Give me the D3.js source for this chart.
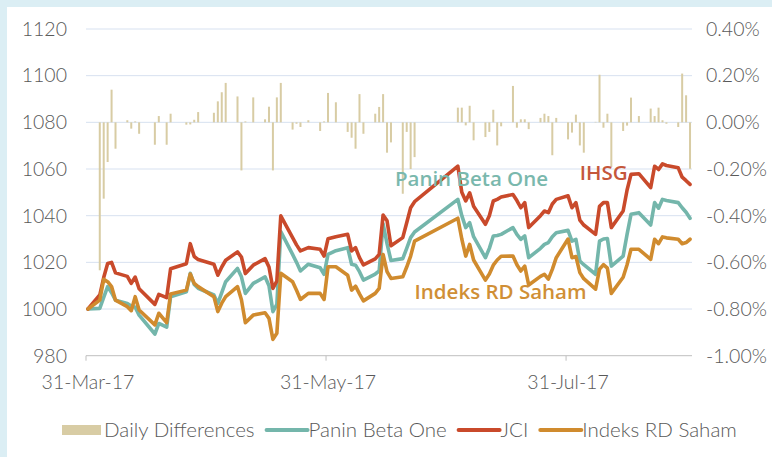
<!DOCTYPE html>
<html>
<head>
<meta charset="utf-8">
<script src="https://cdn.jsdelivr.net/npm/d3@7"></script>
<style>
	body { margin: 0; background: #dbeef4; }
	svg { display: block; }
	text { font-family: Lato, "Open Sans", sans-serif; }
</style>
</head>
<body>
<svg id="chart" width="772" height="457"></svg>
<script>
// trading days, Mar-Aug 2017
var dates = ["2017-03-31",
	"2017-04-03","2017-04-04","2017-04-05","2017-04-06","2017-04-07","2017-04-10","2017-04-11","2017-04-12","2017-04-13","2017-04-17","2017-04-18","2017-04-20","2017-04-21","2017-04-25","2017-04-26","2017-04-27","2017-04-28",
	"2017-05-02","2017-05-03","2017-05-04","2017-05-05","2017-05-08","2017-05-09","2017-05-10","2017-05-12","2017-05-15","2017-05-16","2017-05-17","2017-05-18","2017-05-19","2017-05-22","2017-05-23","2017-05-24","2017-05-26","2017-05-29","2017-05-30","2017-05-31",
	"2017-06-02","2017-06-05","2017-06-06","2017-06-07","2017-06-08","2017-06-09","2017-06-12","2017-06-13","2017-06-14","2017-06-15","2017-06-16","2017-06-19","2017-06-20","2017-06-21","2017-06-22",
	"2017-07-03","2017-07-04","2017-07-05","2017-07-06","2017-07-07","2017-07-10","2017-07-11","2017-07-12","2017-07-13","2017-07-14","2017-07-17","2017-07-18","2017-07-19","2017-07-20","2017-07-21","2017-07-24","2017-07-25","2017-07-26","2017-07-27","2017-07-28","2017-07-31",
	"2017-08-01","2017-08-02","2017-08-03","2017-08-04","2017-08-07","2017-08-08","2017-08-09","2017-08-10","2017-08-11","2017-08-14","2017-08-15","2017-08-16","2017-08-18","2017-08-21","2017-08-22","2017-08-23","2017-08-24","2017-08-25","2017-08-28","2017-08-29","2017-08-30","2017-08-31"];

var jci = [1000,
	1006, 1013.5, 1019.5, 1020, 1015.5, 1014, 1011, 1013.7, 1008.7, 1002, 1006.3, 1004.9, 1017.3, 1019.4, 1028, 1022.5, 1021.2,
	1019.2, 1014.5, 1018, 1020.9, 1024.5, 1022.3, 1015.2, 1018.8, 1021.6, 1018, 1008.8, 1012, 1039.9, 1030.6, 1027.5, 1024.9, 1026.3, 1025.6, 1022.7, 1030.1,
	1031, 1032, 1024.9, 1026.3, 1022, 1018.9, 1021.5, 1023.4, 1040.3, 1037.8, 1027.1, 1030.6, 1037, 1043.4, 1046,
	1061.2, 1050, 1046.3, 1049.8, 1044, 1036.3, 1040, 1046.3, 1047, 1048, 1049.1, 1046.5, 1043.4, 1045.6, 1034.9, 1040, 1042, 1041.3, 1045, 1047, 1048.5,
	1043.4, 1045.6, 1038.1, 1036, 1032, 1044, 1045.6, 1045.6, 1034.9, 1042, 1051, 1057.7, 1058, 1052, 1061.2, 1059.8, 1062.2, 1061.5, 1060.5, 1056.5, 1055, 1053.4];

var panin = [1000,
	1000.3, 1005, 1009.6, 1007, 1003.8, 1002.4, 1001.3, 1000.8, 997.4, 989.3, 993.8, 992.2, 1005.3, 1007.4, 1015.3, 1010.5, 1008.9,
	1006, 1002.4, 1007, 1011.7, 1017.4, 1013.8, 1006.7, 1011, 1013.8, 1010, 998.9, 1002, 1033.2, 1023.4, 1020, 1016.3, 1019.2, 1017.7, 1014.9, 1023.4,
	1025, 1026.3, 1019.2, 1018.8, 1016, 1012.4, 1015, 1016.3, 1036.5, 1028, 1020.8, 1021.6, 1026, 1030.6, 1033,
	1047, 1040, 1034.9, 1037, 1031, 1022, 1026, 1031.3, 1031.5, 1032, 1034.9, 1032, 1029.9, 1031.3, 1022, 1026, 1027.7, 1028.5, 1031, 1032.7, 1033.7,
	1029.1, 1029.9, 1020.6, 1019, 1014.9, 1029.1, 1030, 1030.2, 1018.4, 1022.7, 1032, 1040.6, 1041.3, 1036, 1045.6, 1043.2, 1047, 1046.5, 1045.6, 1043.4, 1041.5, 1038.9];

var rdSaham = [1000,
	1003.8, 1012.7, 1011.7, 1009.6, 1003.8, 1001, 999.3, 1005.3, 999.6, 993.2, 998.2, 994.2, 1006.4, 1008.1, 1015, 1011, 1009.6,
	1005.3, 998.9, 1002.5, 1005.3, 1009.6, 1004, 994.1, 997.4, 998.4, 996, 987, 989.6, 1015.3, 1011.7, 1008, 1004.1, 1006.7, 1006.7, 1004.1, 1018.1,
	1018.1, 1014.5, 1008.1, 1009.8, 1006.5, 1003.5, 1006.7, 1008.8, 1023.4, 1016, 1013.1, 1013.8, 1018, 1022.7, 1029.1,
	1038.9, 1030, 1022.7, 1027.7, 1021, 1012.4, 1015, 1018.8, 1021, 1022.6, 1022.7, 1019, 1016.3, 1018.4, 1010.3, 1014, 1014.9, 1012.8, 1017, 1022, 1030,
	1022, 1022.5, 1015.6, 1013, 1008.5, 1017.1, 1019, 1017.5, 1006.7, 1013.6, 1019, 1025.6, 1025.6, 1021.3, 1029.9, 1028, 1030.9, 1030.5, 1029.9, 1028, 1028.5, 1029.9];

// daily differences, in %
var dailyDiff = [0,
	-0.634, -0.327, -0.17, 0.14, -0.113, 0.009, -0.027, 0.004, -0.049, -0.096, 0.027, -0.096, 0.037, -0.01, -0.009, 0.011, 0.044,
	0.041, 0.09, 0.129, 0.169, 0.111, -0.206, 0.004, 0.107, 0.013, 0.067, -0.206, 0.107, 0.169, -0.031, -0.006, -0.02, 0.009, -0.037, 0.004, 0.126,
	0.086, -0.041, -0.066, -0.113, 0.121, -0.049, 0.037, 0.066, 0.121, -0.13, -0.086, -0.306, -0.041, -0.2, -0.149,
	0.063, 0.063, -0.013, 0.071, -0.077, -0.063, -0.041, 0.054, -0.099, -0.017, 0.156, -0.023, 0.013, 0.013, -0.029, 0.019, 0.037, 0.027, -0.141, 0.019, -0.073,
	-0.044, 0.033, -0.099, -0.13, 0.002, 0.204, -0.023, 0.037, -0.191, -0.037, -0.014, 0.106, 0.027, 0.059, 0.027, 0.063, 0.009, -0.006, -0.02, 0.209, 0.116, -0.199];

var leftTicks = [980, 1000, 1020, 1040, 1060, 1080, 1100, 1120];
var rightTicks = [-1.0, -0.8, -0.6, -0.4, -0.2, 0, 0.2, 0.4];
var xTickDates = ["2017-03-31", "2017-05-31", "2017-07-31"];
var seriesNames = ["Daily Differences", "Panin Beta One", "JCI", "Indeks RD Saham"];
var seriesColors = ["#d8cca4", "#74b6ab", "#c94a2b", "#d08b2e"];
var callouts = [
	{ text: "Panin Beta One", date: "2017-06-17", value: 1052.7, color: "#7ab8ad" },
	{ text: "IHSG", date: "2017-08-03", value: 1055.3, color: "#c5573b" },
	{ text: "Indeks RD Saham", date: "2017-06-22", value: 1004.3, color: "#d08f36" }
];

(function() {
	var W = 772, H = 457,
		left = 86, right = 692, top = 29, bottom = 355.7,
		halfDay = 12 * 3600 * 1000;

	var parse = d3.timeParse("%Y-%m-%d"),
		fmtDate = d3.timeFormat("%d-%b-%y"),
		fmtPct = d3.formatLocale({ decimal: ".", thousands: ",", grouping: [3], currency: ["", ""], minus: "-" }).format(".2f");

	var days = dates.map(parse);

	var svg = d3.select("#chart");
	svg.append("rect")
		.attr("x", 7).attr("y", 7)
		.attr("width", W - 7).attr("height", H - 7)
		.attr("fill", "#ffffff");

	var x = d3.scaleTime()
		.domain([new Date(+days[0] - halfDay), new Date(+days[days.length - 1] + halfDay)])
		.range([left, right]);
	var y = d3.scaleLinear().domain([980, 1120]).range([bottom, top]);
	var y2 = d3.scaleLinear().domain([-1.0, 0.4]).range([bottom, top]);
	var dayPx = x(new Date(+days[0] + halfDay)) - x(days[0]);

	// gridlines
	svg.append("g").selectAll("line")
		.data(leftTicks.slice(1))
		.join("line")
		.attr("x1", left).attr("x2", right)
		.attr("y1", d => y(d)).attr("y2", d => y(d))
		.attr("stroke", "#d7e1f0").attr("stroke-width", 1);

	// bottom axis
	svg.append("line")
		.attr("x1", left).attr("x2", right)
		.attr("y1", y(980)).attr("y2", y(980))
		.attr("stroke", "#bfbfbf").attr("stroke-width", 1);
	svg.append("g").selectAll("line")
		.data(xTickDates.map(parse))
		.join("line")
		.attr("x1", d => x(d) - dayPx).attr("x2", d => x(d) - dayPx)
		.attr("y1", y(980)).attr("y2", y(980) + 5)
		.attr("stroke", "#bfbfbf");
	svg.append("g").selectAll("text")
		.data(xTickDates.map(parse))
		.join("text")
		.attr("x", d => x(d))
		.attr("y", y(980) + 33)
		.attr("text-anchor", "middle")
		.attr("fill", "#595959")
		.style("font-size", "19.5px").style("font-weight", 300)
		.text(d => fmtDate(d));

	// left / right tick labels
	svg.append("g").selectAll("text")
		.data(leftTicks)
		.join("text")
		.attr("x", 67).attr("y", d => y(d))
		.attr("dy", "0.35em")
		.attr("text-anchor", "end")
		.attr("fill", "#595959")
		.style("font-size", "19.5px").style("font-weight", 300)
		.text(d => d);
	svg.append("g").selectAll("text")
		.data(rightTicks)
		.join("text")
		.attr("x", 706).attr("y", d => y2(d))
		.attr("dy", "0.35em")
		.attr("fill", "#595959")
		.style("font-size", "19.5px").style("font-weight", 300)
		.text(d => fmtPct(d) + "%");

	// daily difference bars
	svg.append("g").selectAll("rect")
		.data(days.map((d, i) => ({ date: d, v: dailyDiff[i] })))
		.join("rect")
		.attr("x", d => x(d.date) - 1)
		.attr("width", 2)
		.attr("y", d => Math.min(y2(d.v), y2(0)))
		.attr("height", d => Math.abs(y2(d.v) - y2(0)))
		.attr("fill", seriesColors[0]);

	// lines
	var line = d3.line()
		.x(d => x(d.date))
		.y(d => y(d.v));
	[panin, jci, rdSaham].forEach(function(values, k) {
		svg.append("path")
			.datum(days.map((d, i) => ({ date: d, v: values[i] })))
			.attr("d", line)
			.attr("fill", "none")
			.attr("stroke", seriesColors[k + 1])
			.attr("stroke-width", 3.6)
			.attr("stroke-linejoin", "round")
			.attr("stroke-linecap", "round");
	});

	// callouts
	svg.append("g").selectAll("text")
		.data(callouts)
		.join("text")
		.attr("x", d => x(parse(d.date)))
		.attr("y", d => y(d.value))
		.attr("fill", d => d.color)
		.style("font-family", "'Open Sans', sans-serif")
		.style("font-size", "20.5px").style("font-weight", 600)
		.text(d => d.text);

	// legend
	var legend = svg.append("g");
	var lx = 62, ly = 430;
	seriesNames.forEach(function(name, i) {
		if (i === 0) {
			legend.append("rect")
				.attr("x", lx).attr("y", ly - 5)
				.attr("width", 39).attr("height", 10)
				.attr("fill", seriesColors[0]);
		} else {
			legend.append("line")
				.attr("x1", lx).attr("x2", lx + 41)
				.attr("y1", ly).attr("y2", ly)
				.attr("stroke", seriesColors[i]).attr("stroke-width", 4)
				.attr("stroke-linecap", "round");
		}
		var t = legend.append("text")
			.attr("x", lx + 42).attr("y", ly)
			.attr("dy", "0.35em")
			.attr("fill", "#595959")
			.style("font-size", "20.5px").style("font-weight", 300)
			.text(name);
		lx += 42 + t.node().getComputedTextLength() + 12;
	});
})();
</script>
</body>
</html>
